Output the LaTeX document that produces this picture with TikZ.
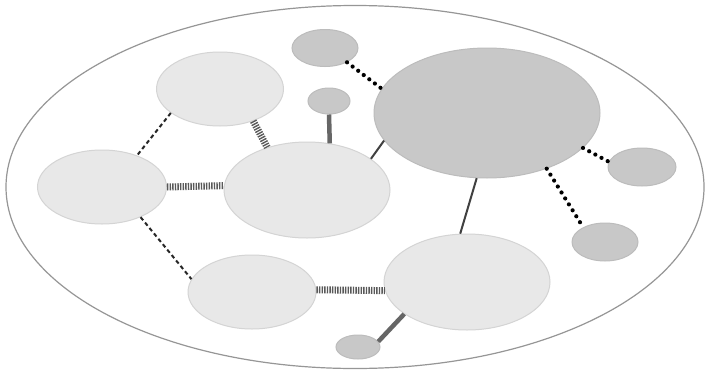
\documentclass[tikz,border=0pt]{standalone}
\usetikzlibrary{shapes.geometric}
\definecolor{lightfill}{RGB}{232,232,232}
\definecolor{lightline}{RGB}{212,212,212}
\definecolor{darkfill}{RGB}{200,200,200}
\definecolor{darkline}{RGB}{188,188,188}
\definecolor{outerline}{RGB}{150,150,150}
\begin{document}
\begin{tikzpicture}[x=1pt,y=-1pt,
  blob/.style={ellipse,inner sep=0pt,draw=lightline,fill=lightfill,line width=1pt},
  dblob/.style={ellipse,inner sep=0pt,draw=darkline,fill=darkfill,line width=1pt},
  dashlink/.style={draw=black!85,line width=2pt,dash pattern=on 4pt off 3pt},
  hatchlink/.style={draw=black!65,line width=7pt,dash pattern=on 1.4pt off 1.2pt},
  dotlink/.style={draw=black,line width=4.2pt,line cap=round,dash pattern=on 0pt off 7pt},
  thinlink/.style={draw=black!75,line width=2pt},
  thicklink/.style={draw=black!60,line width=4.5pt}]
\useasboundingbox (0,0) rectangle (706,372);
\node[ellipse,draw=outerline,fill=white,line width=1.2pt,minimum width=698pt,minimum height=363pt,inner sep=0pt] (outer) at (355,187) {};
\node[blob,minimum width=127pt,minimum height=74pt] (A) at (220,89) {};
\node[blob,minimum width=129pt,minimum height=74pt] (B) at (102,187) {};
\node[blob,minimum width=166pt,minimum height=96pt] (C) at (307,190) {};
\node[blob,minimum width=128pt,minimum height=74pt] (D) at (252,292) {};
\node[blob,minimum width=166pt,minimum height=96pt] (E) at (467,282) {};
\node[dblob,minimum width=226pt,minimum height=130pt] (F) at (487,113) {};
\node[dblob,minimum width=66pt,minimum height=37pt] (G) at (325,48) {};
\node[dblob,minimum width=42pt,minimum height=26pt] (H) at (329,101) {};
\node[dblob,minimum width=68pt,minimum height=38pt] (I) at (642,167) {};
\node[dblob,minimum width=66pt,minimum height=38pt] (J) at (605,242) {};
\node[dblob,minimum width=44pt,minimum height=24pt] (K) at (358,347) {};
% connectors
\draw[dashlink] (A.206) -- (B.42);
\draw[dashlink] (B.322) -- (D.168);
\draw[hatchlink] (A.316) -- (C.133);
\draw[hatchlink] (B.east) -- (C.177);
\draw[hatchlink] (D.2) -- (E.186);
\draw[thicklink] (H.south) -- (C.64);
\draw[thinlink] (C.26) -- (F.195);
\draw[thinlink] (F.261) -- (E.98);
\draw[dotlink] (G.327) -- (F.167);
\draw[dotlink] (F.340) -- (I.171);
\draw[dotlink] (F.317) -- (J.146);
\draw[thicklink] (E.207) -- (K.15);
\end{tikzpicture}
\end{document}
